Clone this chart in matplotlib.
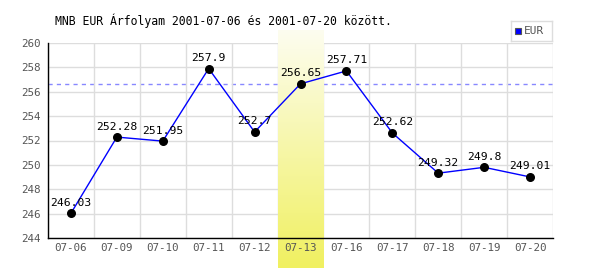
import matplotlib
matplotlib.use("Agg")
import matplotlib.pyplot as plt
import matplotlib.transforms as mtransforms
import numpy as np

dates = ["07-06", "07-09", "07-10", "07-11", "07-12", "07-13", "07-16", "07-17", "07-18", "07-19", "07-20"]
values = [246.03, 252.28, 251.95, 257.9, 252.7, 256.65, 257.71, 252.62, 249.32, 249.8, 249.01]
labels = ["246.03", "252.28", "251.95", "257.9", "252.7", "256.65", "257.71", "252.62", "249.32", "249.8", "249.01"]
highlight_idx = 5
ref_value = 256.65
yticks = [244, 246, 248, 250, 252, 254, 256, 258, 260]
title = "MNB EUR Árfolyam 2001-07-06 és 2001-07-20 között."
series_name = "EUR"

plt.rcParams['font.family'] = ['DejaVu Sans Mono']
fig = plt.figure(figsize=(6, 2.7), dpi=100)
ax = fig.add_axes([48/600, 1-238/270, 505/600, 195/270])

x = np.arange(len(dates))
ax.set_xlim(-0.5, len(dates) - 0.5)
ax.set_ylim(yticks[0], yticks[-1])

# grid
ax.set_yticks(yticks)
ax.set_yticklabels([str(t) for t in yticks])
ax.set_xticks(x)
ax.set_xticklabels([])
ax.set_xticks(np.arange(len(dates) + 1) - 0.5, minor=True)
ax.grid(True, which='minor', axis='x', color='#dddddd', lw=1, zorder=0)
ax.grid(True, which='major', axis='y', color='#dddddd', lw=1, zorder=0)
ax.tick_params(which='both', length=0)
ax.tick_params(axis='both', labelsize=7.8, colors='#555555')
ax.tick_params(axis='y', pad=5)
for s in ['top', 'right']:
    ax.spines[s].set_visible(False)
for s in ['left', 'bottom']:
    ax.spines[s].set_color('black')
    ax.spines[s].set_linewidth(1)
    ax.spines[s].set_zorder(5)

# reference dashed line
ax.axhline(ref_value, color='#8888ff', lw=1, ls=(0, (3, 3)), zorder=1)

# highlight gradient
trans = mtransforms.blended_transform_factory(ax.transData, ax.transAxes)
grad = np.linspace(0, 1, 256).reshape(-1, 1)
top_c = np.array([253, 253, 240]) / 255
bot_c = np.array([240, 240, 96]) / 255
img = top_c[None, None, :] * (1 - grad[:, :, None]) + bot_c[None, None, :] * grad[:, :, None]
y_top = (238 - 30) / 195
y_bot = (238 - 268) / 195
ax.imshow(img, extent=(highlight_idx - 0.5, highlight_idx + 0.5, y_bot, y_top),
          transform=trans, aspect='auto', zorder=2, clip_on=False, interpolation='bilinear')

# x tick labels drawn above highlight
for xi, d in zip(x, dates):
    ax.text(xi, -10/195, d, transform=trans, ha='center', va='center',
            fontsize=7.8, color='#555555', zorder=6, clip_on=False)

# series
ax.plot(x, values, color='#0000ff', lw=1, zorder=3)
ax.scatter(x, values, s=30, color='black', zorder=4)
for xi, v, lab in zip(x, values, labels):
    ax.annotate(lab, (xi, v), xytext=(0, 4), textcoords='offset points',
                ha='center', va='bottom', fontsize=8.2, color='black', zorder=6)

# title
fig.text(55/600, 1-21/270, title, fontsize=8.3, ha='left', va='center', color='black')

# legend
leg_ax = fig.add_axes([511/600, 1-41/270, 41/600, 20/270])
leg_ax.set_xlim(0, 41)
leg_ax.set_ylim(0, 20)
leg_ax.set_xticks([])
leg_ax.set_yticks([])
for s in leg_ax.spines.values():
    s.set_color('#dddddd')
    s.set_linewidth(1)
leg_ax.add_patch(plt.Rectangle((4, 7), 6, 6, facecolor='#0000ff', edgecolor='#555555', lw=0.8))
leg_ax.text(13, 10, series_name, fontsize=8, color='#555555', va='center', ha='left')

fig.savefig("out.png", dpi=100)
